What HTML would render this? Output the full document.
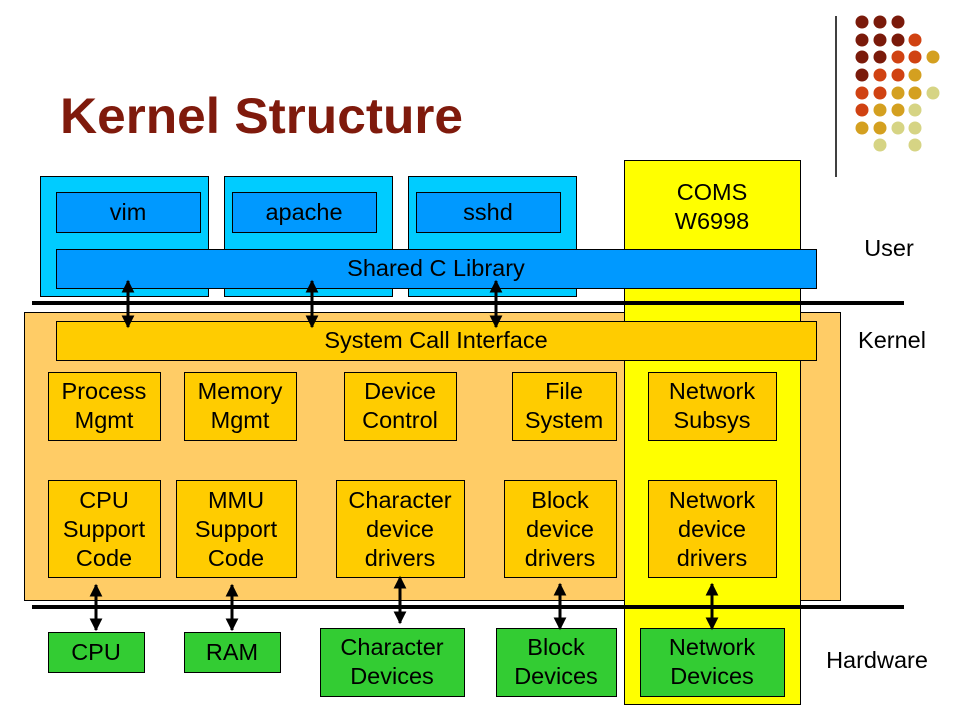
<!DOCTYPE html>
<html><head><meta charset="utf-8"><style>body{margin:0;background:#fff}svg{display:block}</style></head>
<body>
<svg width="960" height="720" viewBox="0 0 960 720" xmlns="http://www.w3.org/2000/svg" font-family="Liberation Sans, Arial, sans-serif">
<defs>
<marker id="a" viewBox="0 0 10 10" refX="9" refY="5" markerWidth="4.3" markerHeight="4.3" orient="auto-start-reverse"><path d="M0,0L10,5L0,10z" fill="#000"/></marker>
</defs>
<rect width="960" height="720" fill="#fff"/>
<text x="60" y="133" font-size="50" font-weight="bold" fill="#7f1a0c" textLength="403" lengthAdjust="spacingAndGlyphs">Kernel Structure</text>
<line x1="836" y1="16" x2="836" y2="177" stroke="#000" stroke-width="1.5"/>
<g>
<circle cx="862" cy="22" r="6.5" fill="#7a1a0a"/><circle cx="880" cy="22" r="6.5" fill="#7a1a0a"/><circle cx="898" cy="22" r="6.5" fill="#7a1a0a"/>
<circle cx="862" cy="40" r="6.5" fill="#7a1a0a"/><circle cx="880" cy="40" r="6.5" fill="#7a1a0a"/><circle cx="898" cy="40" r="6.5" fill="#7a1a0a"/><circle cx="915" cy="40" r="6.5" fill="#d04212"/>
<circle cx="862" cy="57" r="6.5" fill="#7a1a0a"/><circle cx="880" cy="57" r="6.5" fill="#7a1a0a"/><circle cx="898" cy="57" r="6.5" fill="#d04212"/><circle cx="915" cy="57" r="6.5" fill="#d04212"/><circle cx="933" cy="57" r="6.5" fill="#d4a020"/>
<circle cx="862" cy="75" r="6.5" fill="#7a1a0a"/><circle cx="880" cy="75" r="6.5" fill="#d04212"/><circle cx="898" cy="75" r="6.5" fill="#d04212"/><circle cx="915" cy="75" r="6.5" fill="#d4a020"/>
<circle cx="862" cy="93" r="6.5" fill="#d04212"/><circle cx="880" cy="93" r="6.5" fill="#d04212"/><circle cx="898" cy="93" r="6.5" fill="#d4a020"/><circle cx="915" cy="93" r="6.5" fill="#d4a020"/><circle cx="933" cy="93" r="6.5" fill="#d6d484"/>
<circle cx="862" cy="110" r="6.5" fill="#d04212"/><circle cx="880" cy="110" r="6.5" fill="#d4a020"/><circle cx="898" cy="110" r="6.5" fill="#d4a020"/><circle cx="915" cy="110" r="6.5" fill="#d6d484"/>
<circle cx="862" cy="128" r="6.5" fill="#d4a020"/><circle cx="880" cy="128" r="6.5" fill="#d4a020"/><circle cx="898" cy="128" r="6.5" fill="#d6d484"/><circle cx="915" cy="128" r="6.5" fill="#d6d484"/>
<circle cx="880" cy="145" r="6.5" fill="#d6d484"/><circle cx="915" cy="145" r="6.5" fill="#d6d484"/>
</g>
<g stroke="#000" stroke-width="1">
<rect x="24.5" y="312.5" width="816" height="288" fill="#ffcc66"/>
<rect x="624.5" y="160.5" width="176" height="544" fill="#ffff00"/>
<rect x="40.5" y="176.5" width="168" height="120" fill="#00ccff"/>
<rect x="224.5" y="176.5" width="168" height="120" fill="#00ccff"/>
<rect x="408.5" y="176.5" width="168" height="120" fill="#00ccff"/>
<rect x="56.5" y="192.5" width="144" height="40" fill="#0099ff"/>
<rect x="232.5" y="192.5" width="144" height="40" fill="#0099ff"/>
<rect x="416.5" y="192.5" width="144" height="40" fill="#0099ff"/>
<rect x="56.5" y="249.5" width="760" height="39" fill="#0099ff"/>
<rect x="56.5" y="321.5" width="760" height="39" fill="#ffcc00"/>
<rect x="48.5" y="372.5" width="112" height="68" fill="#ffcc00"/>
<rect x="184.5" y="372.5" width="112" height="68" fill="#ffcc00"/>
<rect x="344.5" y="372.5" width="112" height="68" fill="#ffcc00"/>
<rect x="512.5" y="372.5" width="104" height="68" fill="#ffcc00"/>
<rect x="648.5" y="372.5" width="128" height="68" fill="#ffcc00"/>
<rect x="48.5" y="480.5" width="112" height="97" fill="#ffcc00"/>
<rect x="176.5" y="480.5" width="120" height="97" fill="#ffcc00"/>
<rect x="336.5" y="480.5" width="128" height="97" fill="#ffcc00"/>
<rect x="504.5" y="480.5" width="112" height="97" fill="#ffcc00"/>
<rect x="648.5" y="480.5" width="128" height="97" fill="#ffcc00"/>
<rect x="48.5" y="632.5" width="96" height="40" fill="#33cc33"/>
<rect x="184.5" y="632.5" width="96" height="40" fill="#33cc33"/>
<rect x="320.5" y="628.5" width="144" height="68" fill="#33cc33"/>
<rect x="496.5" y="628.5" width="120" height="68" fill="#33cc33"/>
<rect x="640.5" y="628.5" width="144" height="68" fill="#33cc33"/>
</g>
<line x1="32" y1="303" x2="904" y2="303" stroke="#000" stroke-width="4"/>
<line x1="32" y1="607" x2="904" y2="607" stroke="#000" stroke-width="4"/>
<g stroke="#000" stroke-width="3" marker-start="url(#a)" marker-end="url(#a)">
<line x1="128" y1="281" x2="128" y2="327"/>
<line x1="312" y1="281" x2="312" y2="327"/>
<line x1="496" y1="281" x2="496" y2="327"/>
<line x1="96" y1="585" x2="96" y2="630"/>
<line x1="232" y1="585" x2="232" y2="630"/>
<line x1="400" y1="577" x2="400" y2="623"/>
<line x1="560" y1="584" x2="560" y2="629"/>
<line x1="712" y1="584" x2="712" y2="629"/>
</g>
<g font-size="23.5" fill="#000" text-anchor="middle">
<text x="128" y="220">vim</text>
<text x="304" y="220">apache</text>
<text x="488" y="220">sshd</text>
<text x="712" y="200">COMS</text><text x="712" y="229">W6998</text>
<text x="436" y="276">Shared C Library</text>
<text x="436" y="348">System Call Interface</text>
<text x="104" y="399">Process</text><text x="104" y="428">Mgmt</text>
<text x="240" y="399">Memory</text><text x="240" y="428">Mgmt</text>
<text x="400" y="399">Device</text><text x="400" y="428">Control</text>
<text x="564" y="399">File</text><text x="564" y="428">System</text>
<text x="712" y="399">Network</text><text x="712" y="428">Subsys</text>
<text x="104" y="508">CPU</text><text x="104" y="537">Support</text><text x="104" y="566">Code</text>
<text x="236" y="508">MMU</text><text x="236" y="537">Support</text><text x="236" y="566">Code</text>
<text x="400" y="508">Character</text><text x="400" y="537">device</text><text x="400" y="566">drivers</text>
<text x="560" y="508">Block</text><text x="560" y="537">device</text><text x="560" y="566">drivers</text>
<text x="712" y="508">Network</text><text x="712" y="537">device</text><text x="712" y="566">drivers</text>
<text x="96" y="660">CPU</text>
<text x="232" y="660">RAM</text>
<text x="392" y="655">Character</text><text x="392" y="684">Devices</text>
<text x="556" y="655">Block</text><text x="556" y="684">Devices</text>
<text x="712" y="655">Network</text><text x="712" y="684">Devices</text>
<text x="889" y="256">User</text>
<text x="892" y="348">Kernel</text>
<text x="877" y="668">Hardware</text>
</g>
</svg>
</body></html>
